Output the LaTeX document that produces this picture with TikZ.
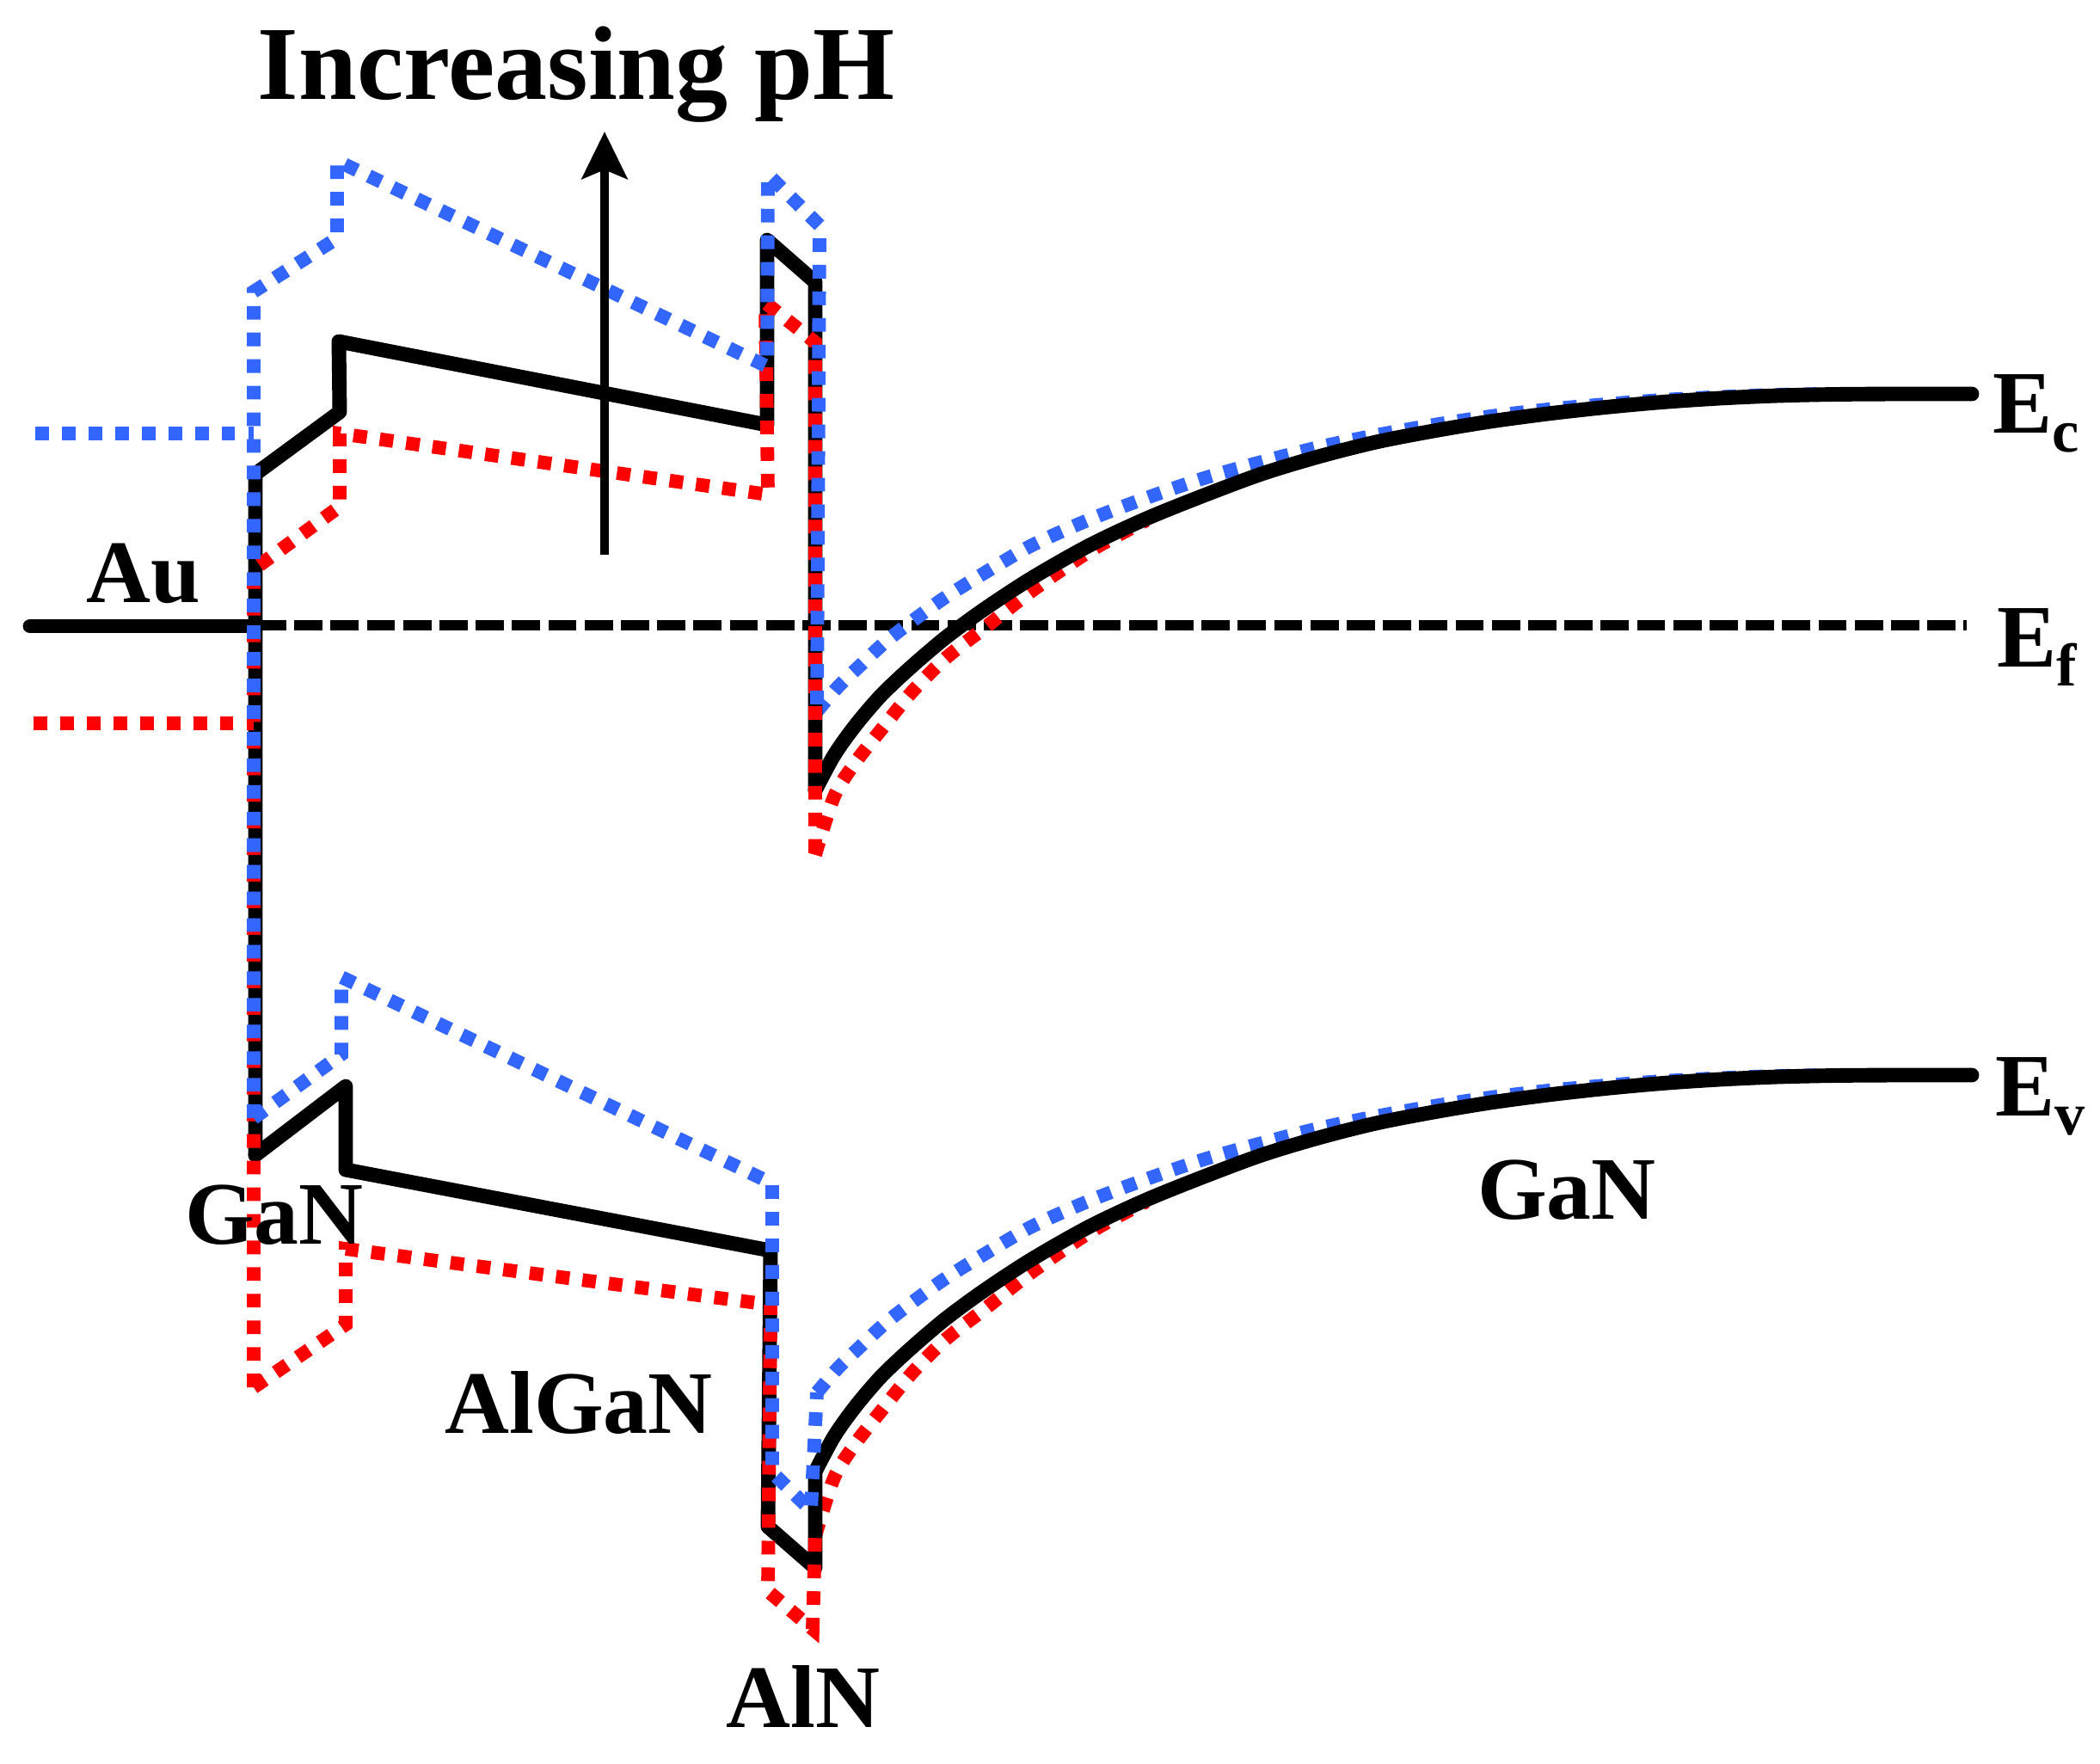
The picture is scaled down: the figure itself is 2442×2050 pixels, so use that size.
\documentclass[tikz,border=0pt]{standalone}
\usepackage{fontspec}
\setmainfont{Liberation Serif}
\usepackage{xcolor}
\usetikzlibrary{arrows.meta}

\definecolor{phblue}{RGB}{51,102,255}
\definecolor{phred}{RGB}{255,0,0}
\newcommand{\lowsub}[1]{\raisebox{-6.5pt}{\fontsize{20}{22}\selectfont #1}}

\begin{document}
\begin{tikzpicture}[x=0.01cm, y=-0.01cm,
        band/.style={line width=4.8pt, line cap=round, line join=round},
        lowph/.style={phred, line width=4.5pt, dash pattern=on 4.5pt off 4.3pt},
        highph/.style={phblue, line width=4.5pt, dash pattern=on 4.5pt off 4.3pt},
        fermi/.style={line width=3.4pt, dash pattern=on 9.3pt off 2.7pt},
        lbl/.style={inner sep=0pt, font=\fontsize{29.5}{32}\selectfont\bfseries}]
        \def\gap{792}
        \useasboundingbox (0,0) rectangle (2442,2050);

        %Fermi level
        \draw[fermi] (300,727) -- (2287,727);

        %Bulk GaN bands, pH dependent (under the black one)
        \foreach \dy in {0,\gap}{
            \draw[lowph, shift={(0,\dy)}] plot[smooth] coordinates {(948,994) (970,926) (995,886) (1025,848) (1060,805) (1100,765) (1145,730) (1200,687) (1267,641) (1333,605)};
            \draw[highph, shift={(0,\dy)}] plot[smooth] coordinates {(950,827) (975,798) (1000,774) (1030,746) (1065,719) (1100,694) (1145,666) (1200,634) (1267,604) (1333,579) (1400,556) (1467,537) (1533,520) (1600,506) (1667,494) (1733,484) (1800,476) (1867,470) (1933,465) (2000,461.5) (2067,459) (2133,458)};
        }

        %Black bands
        \draw[band] (35,728) -- (297,728);
        \draw[band] (297,1343) -- (297,551) -- (395,479) -- (394,397) -- (892,494) -- (892,279) -- (948,328) -- (948,919);
        \draw[band] (297,1343) -- (402,1263) -- (402,1360) -- (896,1454) -- (893,1775) -- (948,1823) -- (948,1711);
        \foreach \dy in {0,\gap}{
            \draw[band, shift={(0,\dy)}] plot[smooth] coordinates {(948,919) (970,878) (995,843) (1025,808) (1060,775) (1100,741) (1145,708) (1200,672) (1267,634) (1333,603) (1400,576) (1467,551) (1533,531) (1600,514) (1667,501) (1733,490) (1800,481) (1867,473.5) (1933,467.5) (2000,463) (2067,460) (2133,458.5) (2200,458)} -- (2293,458);
        }

        %Low pH
        \draw[lowph] (39,841) -- (295,841);
        \draw[lowph] (295,1613) -- (295,662) -- (395,589) -- (395,504) -- (893,575) -- (890,352) -- (948,398) -- (948,994);
        \draw[lowph] (295,1613) -- (402,1540) -- (402,1452) -- (896,1517) -- (893,1850) -- (945,1894) -- (948,1786);

        %High pH
        \draw[highph] (41,504) -- (295,504);
        \draw[highph] (295,1300) -- (295,339) -- (392,277) -- (392,187) -- (892,426) -- (893,203) -- (953,262) -- (950,827);
        \draw[highph] (295,1300) -- (397,1226) -- (397,1136) -- (898,1376) -- (898,1712) -- (943,1756) -- (950,1619);

        %Arrow
        \coordinate (tail) at (703,645);
        \coordinate (tip) at (703,153);
        \draw[line width=2.85pt, -{Stealth[length=15.6pt, width=15pt, inset=3pt]}] (tail) -- (tip);

        %Labels
        \node[lbl, font=\fontsize{34.7}{38}\selectfont\bfseries, anchor=base] (title) at (670,115) {Increasing pH};
        \node[lbl, anchor=base] (au) at (167,700) {Au};
        \node[lbl, anchor=base] (gancap) at (319,1446) {GaN};
        \node[lbl, anchor=base] (algan) at (673,1666) {AlGaN};
        \node[lbl, anchor=base] (aln) at (934,2008) {AlN};
        \node[lbl, anchor=base] (ganbulk) at (1822,1417) {GaN};
        \node[lbl, anchor=base west] (ec) at (2317,503) {E\lowsub{c}};
        \node[lbl, anchor=base west] (ef) at (2322,775) {E\lowsub{f}};
        \node[lbl, anchor=base west] (ev) at (2320,1297) {E\lowsub{v}};
    \end{tikzpicture}
\end{document}
